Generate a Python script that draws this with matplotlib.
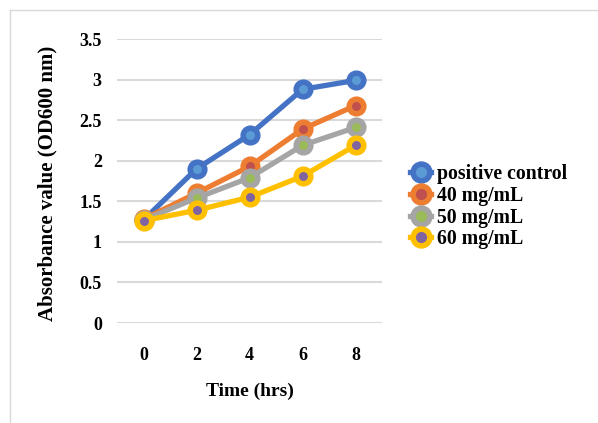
import matplotlib
matplotlib.use("Agg")
import matplotlib.pyplot as plt
from matplotlib.lines import Line2D

plt.rcParams['font.family'] = ['Liberation Serif', 'DejaVu Serif']
plt.rcParams['font.weight'] = 'bold'

hours = ['0', '2', '4', '6', '8']
positive_control = [1.27, 1.90, 2.32, 2.88, 2.99]
mg40 = [1.28, 1.60, 1.93, 2.39, 2.68]
mg50 = [1.27, 1.54, 1.79, 2.19, 2.41]
mg60 = [1.26, 1.39, 1.55, 1.81, 2.19]

series = [
    ('positive control', positive_control, '#4472C4', '#5B9BD5'),
    ('40 mg/mL', mg40, '#ED7D31', '#C0504D'),
    ('50 mg/mL', mg50, '#A5A5A5', '#9BBB59'),
    ('60 mg/mL', mg60, '#FFC000', '#8064A2'),
]

fig = plt.figure(figsize=(5.98, 4.23), dpi=100)
ax = fig.add_axes([0.1957, 0.2364, 0.4433, 0.6714])

x = range(len(hours))
for name, vals, edge, face in series:
    ax.plot(x, vals, color=edge, lw=3.8, marker='o', ms=10.5, mew=4,
            mec=edge, mfc=face, label=name)

ax.set_xlim(-0.5, 4.5)
ax.set_ylim(0, 3.5)
ax.set_xticks(list(x))
ax.set_xticklabels(hours)
ax.set_yticks([0, 0.5, 1, 1.5, 2, 2.5, 3, 3.5])
ax.set_yticklabels(['0', '0.5', '1', '1.5', '2', '2.5', '3', '3.5'])
ax.tick_params(length=0, labelsize=13)
ax.tick_params(axis='y', pad=11)
ax.tick_params(axis='x', pad=17)
ax.grid(axis='y', color='#D9D9D9', lw=1.5)
ax.set_axisbelow(True)
for s in ax.spines.values():
    s.set_visible(False)

ax.set_xlabel('Time (hrs)', fontsize=14, fontweight='bold', labelpad=14)
ax.set_ylabel('Absorbance value (OD600 nm)', fontsize=15, fontweight='bold')
ax.yaxis.set_label_coords(-0.225, 0.49)

ax.legend(loc='upper left', bbox_to_anchor=(0.672, 0.63), bbox_transform=fig.transFigure,
          frameon=False, fontsize=14.2, handlelength=1.1, handletextpad=0.3,
          labelspacing=0.08, borderaxespad=0, markerscale=1.15)

fig.add_artist(Line2D([9.5 / 598, 9.5 / 598], [0, 1 - 10 / 423], color='#D9D9D9', lw=1))
fig.add_artist(Line2D([9.5 / 598, 1], [1 - 10 / 423, 1 - 10 / 423], color='#D9D9D9', lw=1))

fig.savefig('out.png', dpi=100)
